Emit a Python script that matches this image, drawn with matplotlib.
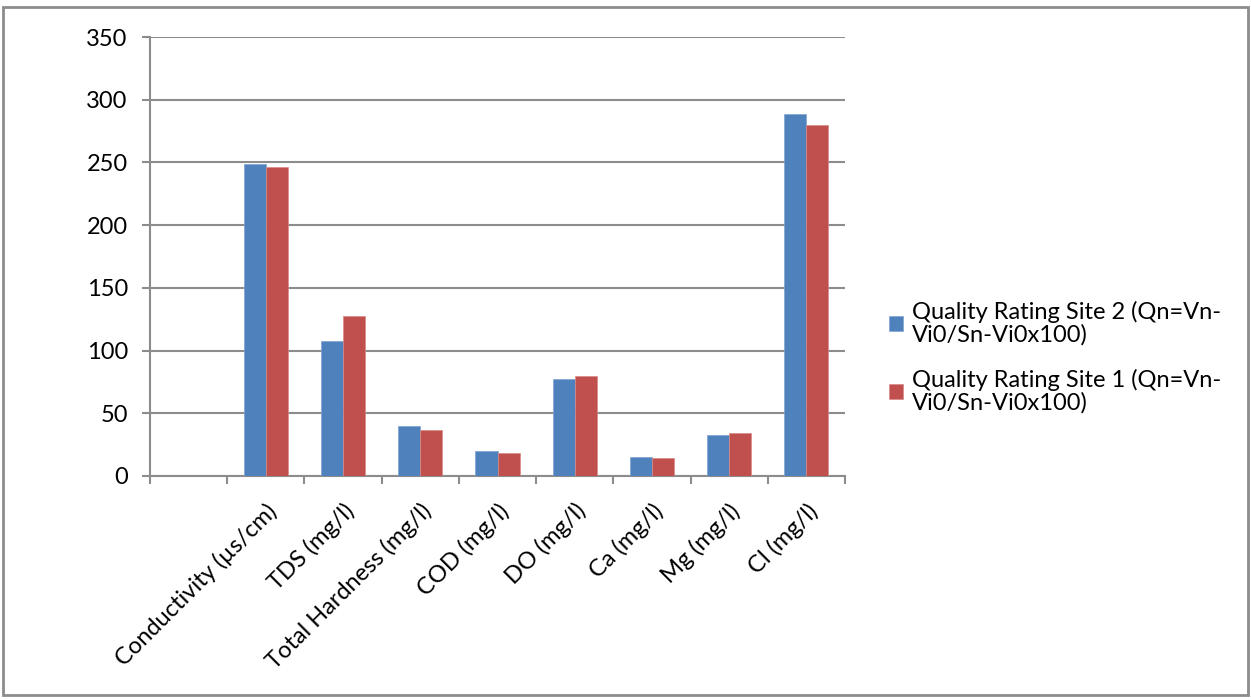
import numpy as np
import matplotlib.pyplot as plt
from matplotlib.patches import Rectangle
from matplotlib.ticker import MultipleLocator, FixedLocator

plt.rcParams['font.family'] = ['Lato', 'DejaVu Sans']

# parameters (first slot left empty in the sheet)
params = ["", "Conductivity (µs/cm)", "TDS (mg/l)", "Total Hardness (mg/l)",
          "COD (mg/l)", "DO (mg/l)", "Ca (mg/l)", "Mg (mg/l)", "Cl (mg/l)"]
site2 = [np.nan, 249, 108, 40, 20, 77.5, 15, 33, 289]
site1 = [np.nan, 246, 127.5, 37, 18.5, 80, 14, 34, 279.5]
labels = ["Quality Rating Site 2 (Qn=Vn-\nVi0/Sn-Vi0x100)",
          "Quality Rating Site 1 (Qn=Vn-\nVi0/Sn-Vi0x100)"]

blue = "#4F81BD"
red = "#C0504D"
grey = "#8C8C8C"
fs = 17

fig = plt.figure(figsize=(12.51, 7.0), dpi=100)
ax = fig.add_axes([150 / 1251, 1 - 476 / 700, 695 / 1251, 439 / 700])

x = np.arange(len(params))
w = 1 / 3.5
ax.bar(x - w / 2, site2, w, color=blue, edgecolor="#7FA3D0", linewidth=0.5, label=labels[0], zorder=3)
ax.bar(x + w / 2, site1, w, color=red, edgecolor="#D88A88", linewidth=0.5, label=labels[1], zorder=3)

ax.set_xlim(-0.5, len(params) - 0.5)
ax.set_ylim(0, 350)
ax.yaxis.set_major_locator(MultipleLocator(50))
ax.grid(axis="y", color=grey, linewidth=1.5, zorder=0)

for s in ["top", "right"]:
    ax.spines[s].set_visible(False)
for s in ["left", "bottom"]:
    ax.spines[s].set_color(grey)
    ax.spines[s].set_linewidth(1.5)

ax.tick_params(axis="y", length=6, width=1.5, color=grey, pad=10, labelsize=fs)
ax.set_xticks(x)
ax.set_xticklabels(params, rotation=45, ha="right", rotation_mode="anchor", fontsize=fs)
ax.tick_params(axis="x", which="major", length=0, pad=17)
ax.xaxis.set_minor_locator(FixedLocator(np.arange(-0.5, len(params), 1.0)))
ax.tick_params(axis="x", which="minor", length=6, width=1.5, color=grey)

leg = fig.legend(loc="upper left", bbox_to_anchor=(868 / 1251, 1 - 280 / 700),
                 frameon=False, fontsize=fs, handlelength=0.6, handleheight=0.6,
                 handletextpad=0.35, labelspacing=1.0)
for t in leg.get_texts():
    t.set_linespacing(1.05)

# outer chart border
fig.patches.append(Rectangle((3 / 1251, 5 / 700), 1245 / 1251, 688 / 700,
                             transform=fig.transFigure, fill=False,
                             edgecolor=grey, linewidth=2))

fig.savefig("out.png", dpi=100)
